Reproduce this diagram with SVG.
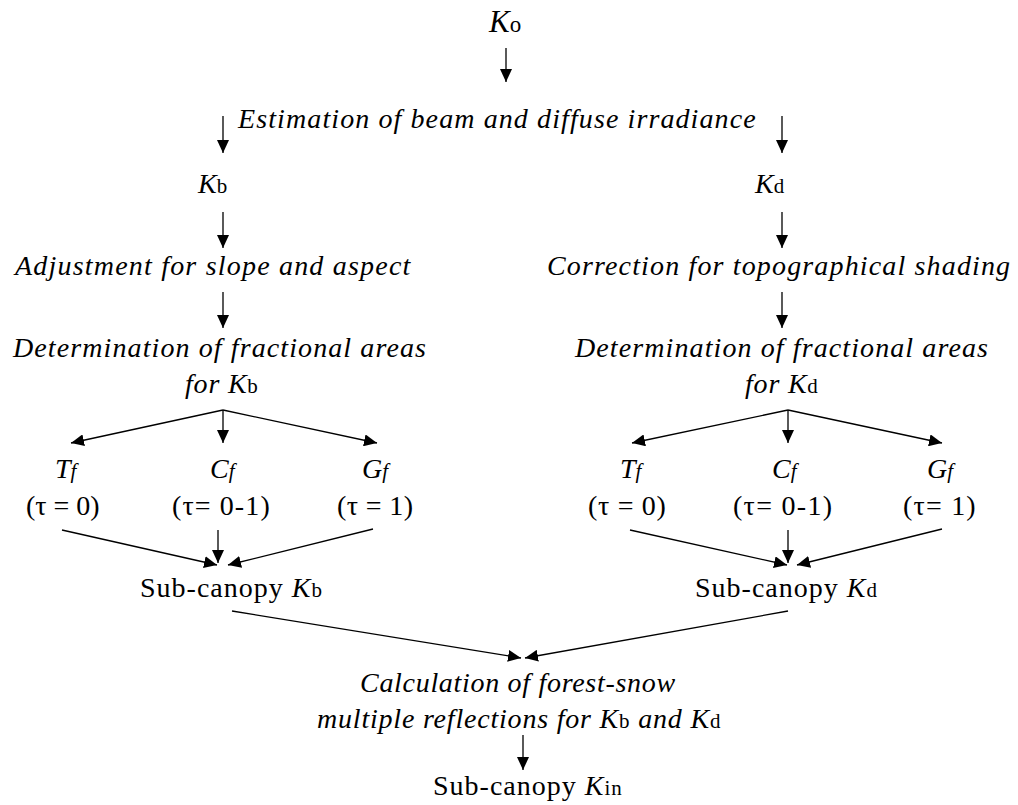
<svg xmlns="http://www.w3.org/2000/svg" width="1018" height="805" viewBox="0 0 1018 805" font-family="'Liberation Serif', 'DejaVu Serif', serif">
<style>
text{font-family:"Liberation Serif","DejaVu Serif",serif;font-size:28px;fill:#000}
.i{font-style:italic}
.s{font-style:normal;font-size:21px}
.fi{font-style:italic;font-size:21px}
.c line{stroke:#000;stroke-width:1.3;marker-end:url(#ah)}
</style>
<defs>
<marker id="ah" markerUnits="userSpaceOnUse" markerWidth="13" markerHeight="12" refX="13" refY="6" orient="auto">
<path d="M0,0 L13,6 L0,12 z" fill="#000"/>
</marker>
</defs>
<rect width="1018" height="805" fill="#fff"/>
<g id="K0"><text x="489" y="32" class="i" style="font-size:31px">K<tspan class="s" style="font-size:23px">o</tspan></text></g>
<g id="estimation"><text x="238" y="128" class="i" letter-spacing="1.1">Estimation of beam and diffuse irradiance</text></g>
<g id="Kb"><text x="198" y="193" class="i">K<tspan class="s">b</tspan></text></g>
<g id="Kd"><text x="755" y="193" class="i">K<tspan class="s">d</tspan></text></g>
<g id="adjust"><text x="15" y="275" class="i" letter-spacing="1.2">Adjustment for slope and aspect</text></g>
<g id="correct"><text x="547" y="275" class="i" letter-spacing="1.15">Correction for topographical shading</text></g>
<g id="fracB"><text x="13" y="357" class="i" letter-spacing="1.1">Determination of fractional areas</text><text x="185" y="393" class="i" letter-spacing="0.8">for K<tspan class="s">b</tspan></text></g>
<g id="fracD"><text x="575" y="357" class="i" letter-spacing="1.1">Determination of fractional areas</text><text x="745" y="393" class="i" letter-spacing="0.8">for K<tspan class="s">d</tspan></text></g>
<g id="TfB"><text x="55" y="478" class="i">T<tspan class="fi">f</tspan></text><text x="26" y="515">(τ = 0)</text></g>
<g id="CfB"><text x="210" y="478" class="i">C<tspan class="fi">f</tspan></text><text x="172" y="515" letter-spacing="1.1">(τ= 0-1)</text></g>
<g id="GfB"><text x="362" y="478" class="i">G<tspan class="fi">f</tspan></text><text x="337" y="515" letter-spacing="0.4">(τ = 1)</text></g>
<g id="TfD"><text x="620" y="478" class="i">T<tspan class="fi">f</tspan></text><text x="588" y="515" letter-spacing="0.7">(τ = 0)</text></g>
<g id="CfD"><text x="772" y="478" class="i">C<tspan class="fi">f</tspan></text><text x="733" y="515" letter-spacing="1.3">(τ= 0-1)</text></g>
<g id="GfD"><text x="903" y="478" dx="24" class="i">G<tspan class="fi">f</tspan></text><text x="903" y="515" letter-spacing="1.2">(τ= 1)</text></g>
<g id="subB"><text x="140" y="597" letter-spacing="1">Sub-canopy <tspan class="i">K</tspan><tspan class="s">b</tspan></text></g>
<g id="subD"><text x="695" y="597" letter-spacing="1">Sub-canopy <tspan class="i">K</tspan><tspan class="s">d</tspan></text></g>
<g id="calc"><text x="360" y="692" class="i" letter-spacing="0.7">Calculation of forest-snow</text><text x="317" y="728" class="i" letter-spacing="0.8">multiple reflections for K<tspan class="s">b</tspan> and K<tspan class="s">d</tspan></text></g>
<g id="Kin"><text x="433" y="795" letter-spacing="1">Sub-canopy <tspan class="i">K</tspan><tspan class="s">in</tspan></text></g>
<g id="connectors" class="c">
<line x1="506" y1="48" x2="506" y2="82"/>
<line x1="223" y1="116" x2="223" y2="153"/>
<line x1="782" y1="116" x2="782" y2="153"/>
<line x1="223" y1="212" x2="223" y2="248"/>
<line x1="782" y1="212" x2="782" y2="248"/>
<line x1="223" y1="292" x2="223" y2="328"/>
<line x1="782" y1="292" x2="782" y2="328"/>
<line x1="223" y1="410" x2="71" y2="443"/>
<line x1="223" y1="410" x2="223" y2="443"/>
<line x1="223" y1="410" x2="377" y2="443"/>
<line x1="788" y1="410" x2="632" y2="443"/>
<line x1="788" y1="410" x2="788" y2="443"/>
<line x1="788" y1="410" x2="942" y2="443"/>
<line x1="62" y1="530" x2="217" y2="565"/>
<line x1="218" y1="530" x2="218" y2="563"/>
<line x1="373" y1="529" x2="228" y2="565"/>
<line x1="630" y1="530" x2="787" y2="565"/>
<line x1="788" y1="530" x2="788" y2="563"/>
<line x1="942" y1="529" x2="797" y2="565"/>
<line x1="232" y1="611" x2="521" y2="658"/>
<line x1="788" y1="611" x2="525" y2="658"/>
<line x1="523" y1="735" x2="523" y2="770"/>
</g>
</svg>
